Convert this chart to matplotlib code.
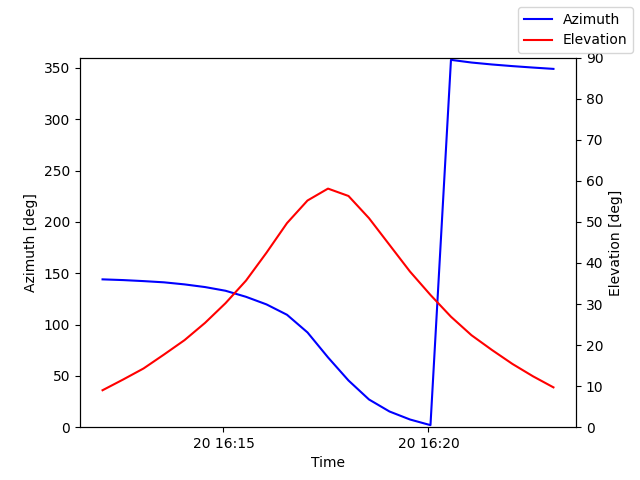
import pandas as pd
import matplotlib
matplotlib.use("Agg")
import matplotlib.pyplot as plt

#pass times, every 30 s
times = pd.date_range("2023-03-20 16:12:03", periods=23, freq="30s")

azimuth = [144.0, 143.3, 142.3, 141.1, 139.1, 136.5, 132.9, 127.0, 119.6, 109.5,
           92.3, 68.0, 45.5, 27.0, 15.3, 7.5, 2.0,
           357.8, 355.2, 353.3, 351.7, 350.3, 349.0]
elevation = [9.0, 11.6, 14.3, 17.7, 21.2, 25.4, 30.2, 35.7, 42.5, 49.7,
             55.2, 58.1, 56.3, 50.9, 44.4, 37.9, 32.2,
             26.9, 22.4, 18.8, 15.4, 12.4, 9.7]

fig, ax = plt.subplots(figsize=(6.4, 4.8), dpi=100)
ax.plot(times, azimuth, color="blue", label="Azimuth")
ax.set_ylim(0, 360)
ax.set_xlabel("Time")
ax.set_ylabel("Azimuth [deg]")

ax2 = ax.twinx()
ax2.plot(times, elevation, color="red", label="Elevation")
ax2.set_ylim(0, 90)
ax2.set_ylabel("Elevation [deg]")

fig.legend()
fig.savefig("out.png")
